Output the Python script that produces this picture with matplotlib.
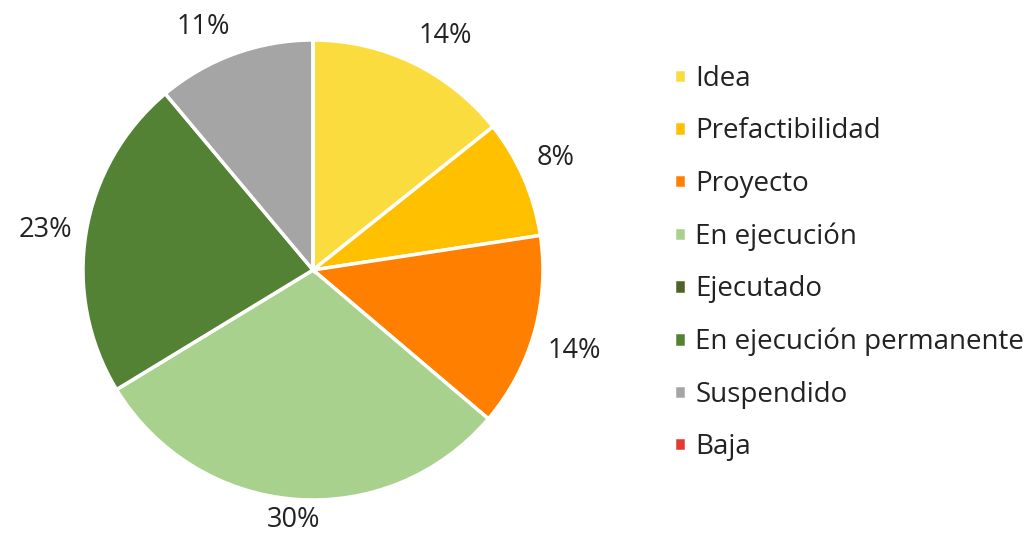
import matplotlib
matplotlib.use("Agg")
import matplotlib.pyplot as plt
import numpy as np

categorias = ["Idea", "Prefactibilidad", "Proyecto", "En ejecución", "Ejecutado",
              "En ejecución permanente", "Suspendido", "Baja"]
porcentajes = [14.3, 8.3, 13.6, 30.1, 0.0, 22.6, 11.1, 0.0]
colores = ["#FADC3E", "#FFC000", "#FF8000", "#A9D18E", "#4F6228",
           "#548235", "#A5A5A5", "#E03C31"]

plt.rcParams['font.family'] = ['Open Sans', 'DejaVu Sans']
texto = "#222222"

def etiqueta(p):
    if p < 0.5:
        return ""
    return "%.0f%%" % p

fig = plt.figure(figsize=(10.28, 5.33), dpi=100)
R = 230
ax = fig.add_axes([(313 - R) / 1028, (533 - 270 - R) / 533, 2 * R / 1028, 2 * R / 533])

wedges, _, autotexts = ax.pie(porcentajes, colors=colores, startangle=90, counterclock=False,
                              autopct=etiqueta, pctdistance=1.1, radius=1.0,
                              wedgeprops=dict(edgecolor="white", linewidth=2.5),
                              textprops=dict(color=texto, fontsize=19.5))
# etiquetas "fuera del extremo": la esquina cercana toca un punto justo fuera del borde
for w, t in zip(wedges, autotexts):
    ang = np.deg2rad((w.theta1 + w.theta2) / 2)
    c, s = np.cos(ang), np.sin(ang)
    if abs(s) > 0.98:
        # arriba/abajo: centrada, pegada al borde
        t.set_position((1.09 * c, 1.09 * s))
        t.set_ha("center")
        t.set_va("center")
        continue
    t.set_position((1.06 * c, 1.06 * s))
    t.set_ha("left" if c > 0.2 else ("right" if c < -0.2 else "center"))
    t.set_va("bottom" if s > 0.2 else ("top" if s < -0.2 else "center"))
ax.set_xlim(-1, 1)
ax.set_ylim(-1, 1)
ax.set_aspect("equal")

leg = fig.legend(wedges, categorias, loc="upper left", bbox_to_anchor=(674 / 1028, 1 - 65 / 533),
                 frameon=False, fontsize=20, handlelength=0.42, handleheight=0.42,
                 handletextpad=0.35, labelspacing=0.88, borderaxespad=0, borderpad=0)
for t in leg.get_texts():
    t.set_color(texto)

fig.savefig("out.png", dpi=100)
